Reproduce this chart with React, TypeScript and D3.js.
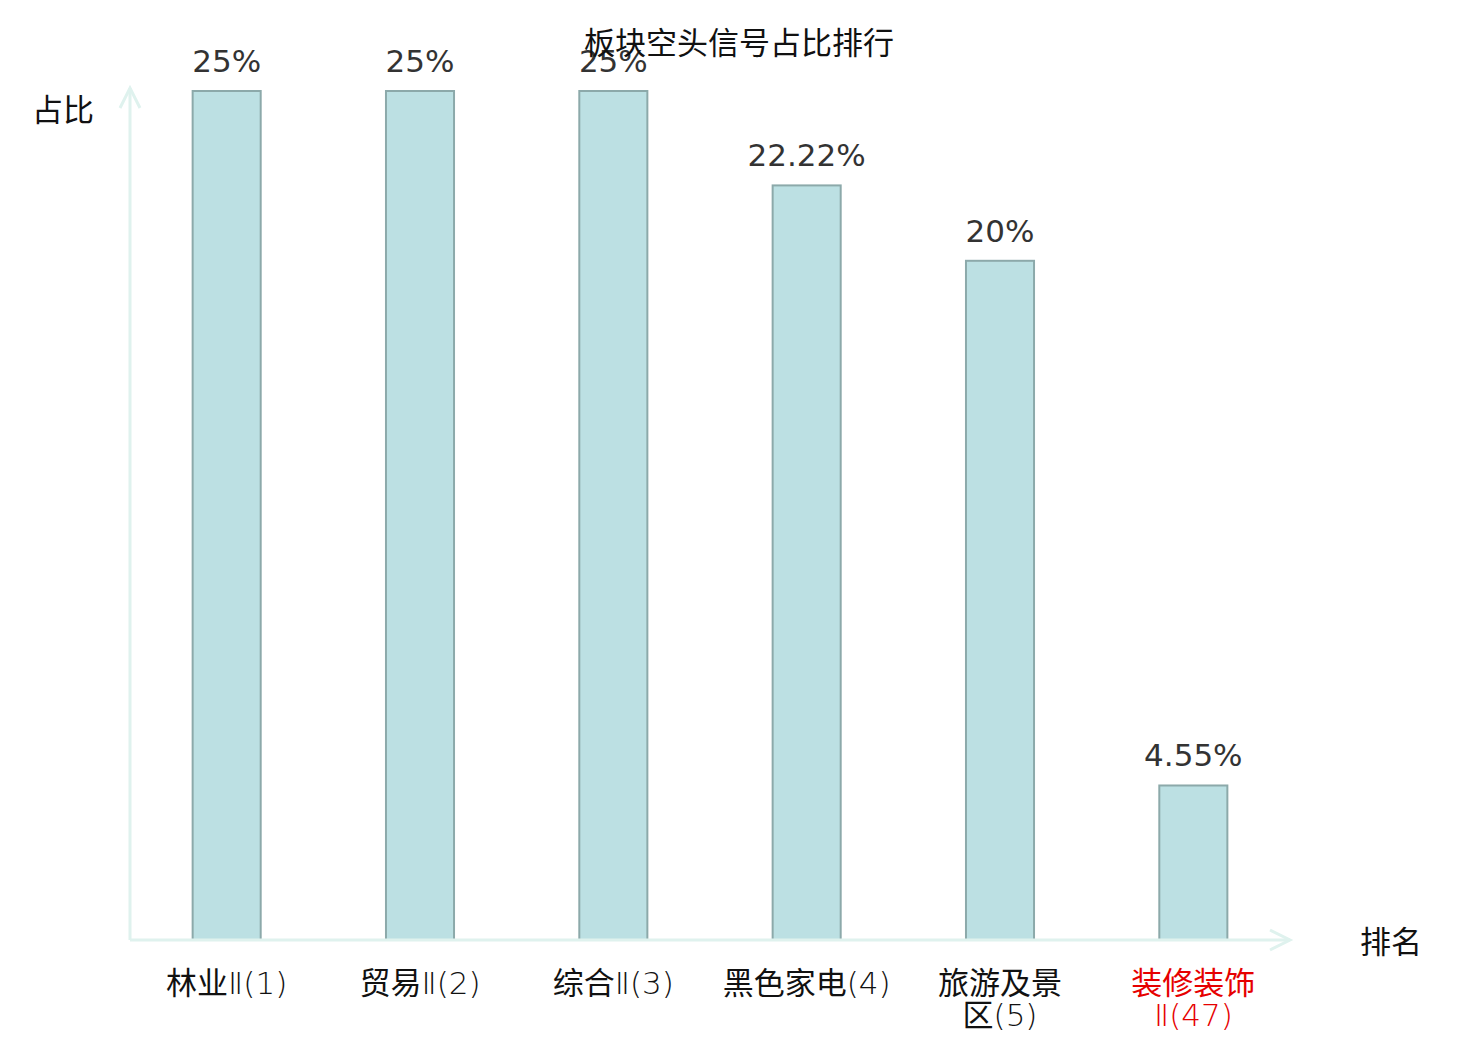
import { useEffect, useRef } from "react";
import * as d3 from "d3";

const title = "板块空头信号占比排行";
const categories = ["林业Ⅱ(1)", "贸易Ⅱ(2)", "综合Ⅱ(3)", "黑色家电(4)", "旅游及景区(5)", "装修装饰Ⅱ(47)"];
const shares = [25, 25, 25, 22.22, 20, 4.55];
const highlighted = ["装修装饰Ⅱ(47)"];
const yAxisName = "占比";
const xAxisName = "排名";

const width = 1480;
const height = 1040;
const margin = { left: 130, right: 190, top: 91, bottom: 100 };

const axisColor = "#dff2ee";
const cjk = "'Noto Sans CJK SC', sans-serif";
const latin = "'DejaVu Sans', sans-serif";

// long labels break after the 4th character
const wrapLabel = (s: string) => (s.length <= 7 ? [s] : [s.slice(0, 4), s.slice(4)]);
// split a line into CJK / non-CJK runs
const runs = (s: string) => s.match(/[\u4e00-\u9fff]+|[^\u4e00-\u9fff]+/g) || [];

export default function App() {
  const ref = useRef<SVGSVGElement>(null);

  useEffect(() => {
    if (!ref.current) return;
    const svg = d3.select(ref.current);
    svg.selectAll("*").remove();

    const x0 = margin.left;
    const x1 = width - margin.right;
    const yBase = height - margin.bottom;

    const x = d3.scaleBand<string>().domain(categories).range([x0, x1]).padding(0);
    const y = d3.scaleLinear().domain([0, 25]).range([yBase, margin.top]);
    const barW = x.bandwidth() * 0.352;
    const cx = (d: string) => x(d)! + x.bandwidth() / 2;

    // bars
    svg.append("g")
      .selectAll("rect")
      .data(categories)
      .join("rect")
      .attr("x", (d) => cx(d) - barW / 2)
      .attr("y", (_, i) => y(shares[i]))
      .attr("width", barW)
      .attr("height", (_, i) => yBase - y(shares[i]))
      .attr("fill", "#bce0e3")
      .attr("stroke", "#8ca9aa")
      .attr("stroke-width", 2);

    // axes
    const ax = svg.append("g").attr("fill", "none").attr("stroke", axisColor).attr("stroke-width", 3);
    ax.append("line").attr("x1", x0).attr("x2", x1).attr("y1", yBase).attr("y2", yBase);
    ax.append("line").attr("x1", x0).attr("x2", x0).attr("y1", yBase).attr("y2", margin.top - 3);
    ax.append("path").attr("d", `M${x1 - 20},${yBase - 10}L${x1},${yBase}L${x1 - 20},${yBase + 10}`);
    ax.append("path").attr("d", `M${x0 - 10},${margin.top + 17}L${x0},${margin.top - 3}L${x0 + 10},${margin.top + 17}`);

    // value labels
    svg.append("g")
      .selectAll("text")
      .data(categories)
      .join("text")
      .attr("x", cx)
      .attr("y", (_, i) => y(shares[i]) - 19)
      .attr("text-anchor", "middle")
      .attr("font-family", latin)
      .attr("font-size", 31)
      .attr("fill", "#333")
      .text((_, i) => `${shares[i]}%`);

    // category labels, one <text> per line
    const g = svg.append("g");
    categories.forEach((d) => {
      wrapLabel(d).forEach((line, li) => {
        const t = g.append("text")
          .attr("x", cx(d))
          .attr("y", yBase + 54 + li * 32)
          .attr("text-anchor", "middle")
          .attr("font-size", 31)
          .attr("fill", highlighted.includes(d) ? "#e60000" : "#111");
        runs(line).forEach((r) => {
          const isCjk = /[\u4e00-\u9fff]/.test(r);
          t.append("tspan")
            .attr("font-family", isCjk ? cjk : latin)
            .attr("font-weight", isCjk ? 400 : 200)
            .text(r);
        });
      });
    });

    // axis names & title
    svg.append("text")
      .attr("x", 63).attr("y", 121)
      .attr("text-anchor", "middle")
      .attr("font-family", cjk).attr("font-size", 31).attr("fill", "#111")
      .text(yAxisName);
    svg.append("text")
      .attr("x", 1391).attr("y", 953)
      .attr("text-anchor", "middle")
      .attr("font-family", cjk).attr("font-size", 31).attr("fill", "#111")
      .text(xAxisName);
    svg.append("text")
      .attr("x", 739).attr("y", 54)
      .attr("text-anchor", "middle")
      .attr("font-family", cjk).attr("font-size", 31).attr("fill", "#111")
      .text(title);
  }, []);

  return (
    <svg
      ref={ref}
      width={width}
      height={height}
      style={{ position: "absolute", left: 0, top: 0, background: "#fff" }}
    />
  );
}
